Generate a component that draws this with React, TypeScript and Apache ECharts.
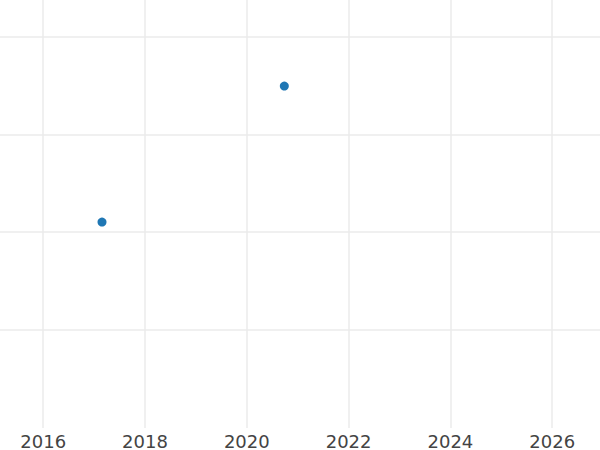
import React, { useEffect, useRef } from "react";
import * as echarts from "echarts";

const years = [2017.155, 2020.737];
const values = [2.104, 3.493];
const xTicks = [2016, 2018, 2020, 2022, 2024, 2026];
const yTicks = [1, 2, 3, 4];

export default function App() {
  const ref = useRef<HTMLDivElement>(null);
  useEffect(() => {
    if (!ref.current) return;
    const chart = echarts.init(ref.current, undefined, { renderer: "svg" });
    chart.setOption({
      animation: false,
      backgroundColor: "#ffffff",
      grid: { left: 0, right: 0, top: 0, bottom: 22, containLabel: false },
      xAxis: {
        type: "value",
        min: 2015.151,
        max: 2026.939,
        axisLine: { show: false },
        axisTick: { show: false, customValues: xTicks },
        axisLabel: {
          customValues: xTicks,
          formatter: (v: number) => String(Math.round(v)),
          color: "#444444",
          fontSize: 18,
          fontFamily: "DejaVu Sans",
          margin: 4,
        },
        splitLine: { show: true, lineStyle: { color: "#ebebeb", width: 1.5 } },
      },
      yAxis: {
        type: "value",
        min: 0,
        max: 4.372,
        axisLine: { show: false },
        axisTick: { show: false, customValues: yTicks },
        axisLabel: { show: false },
        splitLine: { show: true, lineStyle: { color: "#ebebeb", width: 1.5 } },
      },
      series: [
        {
          type: "scatter",
          data: years.map((x, i) => [x, values[i]]),
          symbolSize: 9,
          itemStyle: { color: "#1f77b4", opacity: 1 },
        },
      ],
    });
    return () => chart.dispose();
  }, []);
  return <div ref={ref} style={{ width: 600, height: 450, position: "absolute", left: 0, top: 0 }} />;
}
